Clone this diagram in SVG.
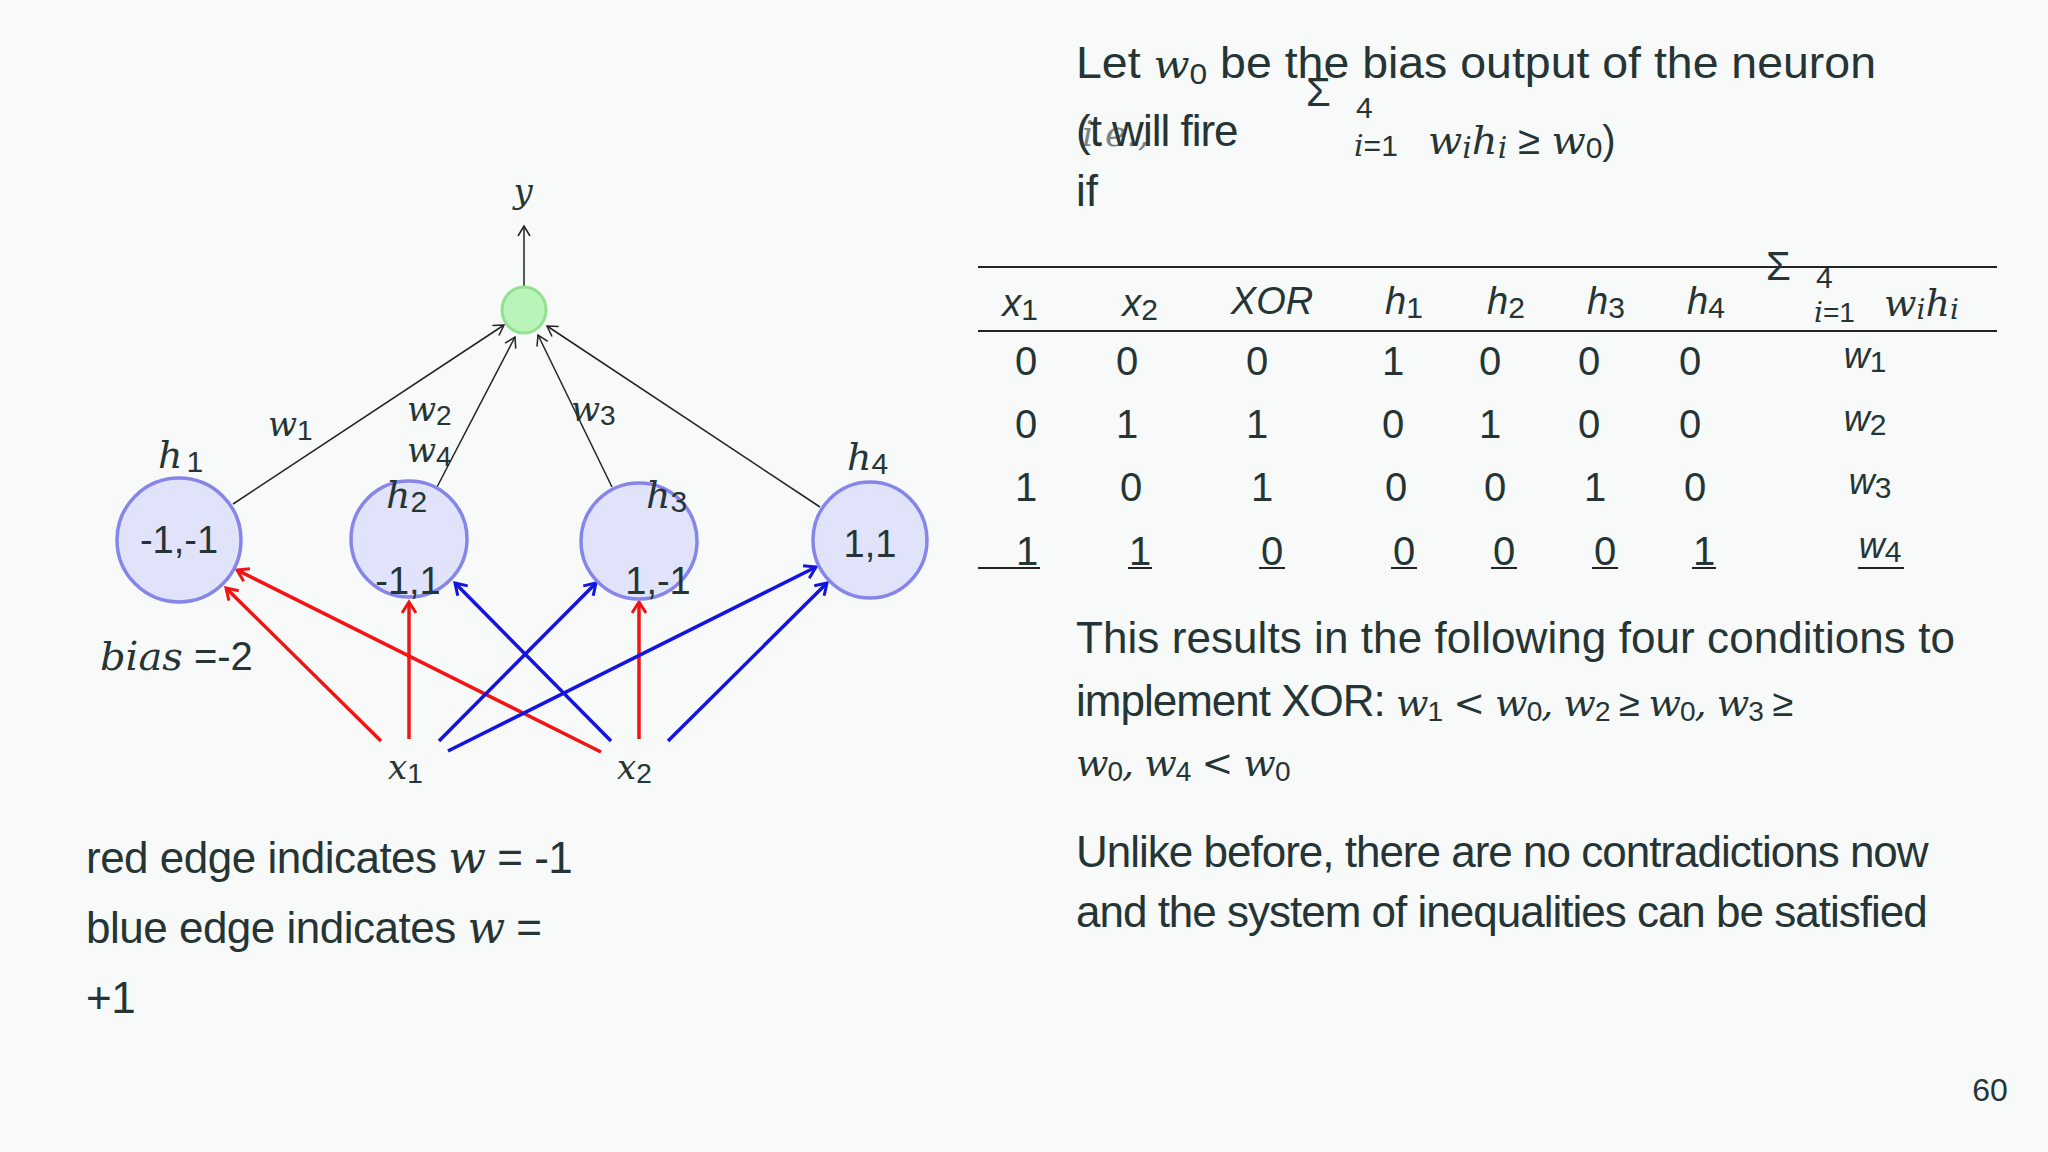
<svg xmlns="http://www.w3.org/2000/svg" width="2048" height="1152" viewBox="0 0 2048 1152">
<style>
text{fill:#253535;font-family:"Liberation Sans",Arial,sans-serif}
.m{font-family:"DejaVu Serif","Liberation Serif",serif;font-style:italic}
.s{font-family:"Liberation Sans",sans-serif;font-style:normal}
.b{font-size:44px}
.t{font-size:40px;text-anchor:middle}
.hn{fill:#e1e3fa;stroke:#8585ea;stroke-width:3.5}
.k{stroke:#222;stroke-width:1.5;fill:none;marker-end:url(#ak)}
.r{stroke:#f01414;stroke-width:3.5;fill:none;marker-end:url(#ar)}
.bl{stroke:#1414e0;stroke-width:3.5;fill:none;marker-end:url(#ab)}
</style>
<defs>
<marker id="ak" markerWidth="14" markerHeight="14" refX="12" refY="7" orient="auto" markerUnits="userSpaceOnUse"><path d="M2,1 L12,7 L2,13" fill="none" stroke="#222" stroke-width="1.5"/></marker>
<marker id="ar" markerWidth="16" markerHeight="16" refX="13" refY="8" orient="auto" markerUnits="userSpaceOnUse"><path d="M2,1 L13,8 L2,15" fill="none" stroke="#f01414" stroke-width="3"/></marker>
<marker id="ab" markerWidth="16" markerHeight="16" refX="13" refY="8" orient="auto" markerUnits="userSpaceOnUse"><path d="M2,1 L13,8 L2,15" fill="none" stroke="#1414e0" stroke-width="3"/></marker>
</defs>
<rect width="2048" height="1152" fill="#f8f9f9"/>
<g id="connectors">
<line x1="524" y1="287" x2="524" y2="226" class="k"/>
<line x1="233" y1="504" x2="504" y2="325" class="k"/>
<line x1="437" y1="487" x2="515" y2="337" class="k"/>
<line x1="612" y1="487" x2="538" y2="335" class="k"/>
<line x1="820" y1="507" x2="547" y2="326" class="k"/>
<line x1="381" y1="741" x2="226" y2="588" class="r"/>
<line x1="409" y1="739" x2="409" y2="602" class="r"/>
<line x1="601" y1="752" x2="237" y2="570" class="r"/>
<line x1="639" y1="739" x2="639" y2="602" class="r"/>
<line x1="439" y1="741" x2="596" y2="583" class="bl"/>
<line x1="448" y1="751" x2="816" y2="567" class="bl"/>
<line x1="611" y1="741" x2="455" y2="583" class="bl"/>
<line x1="668" y1="741" x2="827" y2="583" class="bl"/>
</g>
<g id="out"><ellipse cx="524" cy="310" rx="22" ry="23" fill="#b9f5b9" stroke="#92e092" stroke-width="3"/><text x="523" y="203" class="m" font-size="34" text-anchor="middle">y</text></g>
<g id="h1"><ellipse cx="179" cy="540" rx="62" ry="62" class="hn"/><text x="179" y="553" font-size="38" text-anchor="middle">-1,-1</text><text x="158" y="468" class="m" font-size="38">h<tspan font-size="30" class="s" dx="4" dy="4">1</tspan></text></g>
<g id="h2"><ellipse cx="409" cy="539" rx="58" ry="58" class="hn"/><text x="408" y="594" font-size="38" text-anchor="middle">-1,1</text><text x="386" y="508" class="m" font-size="38">h<tspan font-size="30" class="s" dy="4">2</tspan></text></g>
<g id="h3"><ellipse cx="639" cy="541" rx="58" ry="58" class="hn"/><text x="658" y="594" font-size="38" text-anchor="middle">1,-1</text><text x="646" y="508" class="m" font-size="38">h<tspan font-size="30" class="s" dy="4">3</tspan></text></g>
<g id="h4"><ellipse cx="870" cy="540" rx="57" ry="58" class="hn"/><text x="870" y="557" font-size="38" text-anchor="middle">1,1</text><text x="847" y="470" class="m" font-size="38">h<tspan font-size="30" class="s" dy="4">4</tspan></text></g>
<g id="wlabels" font-size="34">
<text x="268" y="436" class="m">w<tspan class="s" font-size="28" dy="4">1</tspan></text>
<text x="407" y="421" class="m">w<tspan class="s" font-size="28" dy="4">2</tspan></text>
<text x="407" y="462" class="m">w<tspan class="s" font-size="28" dy="4">4</tspan></text>
<text x="571" y="421" class="m">w<tspan class="s" font-size="28" dy="4">3</tspan></text>
</g>
<g id="inputs">
<text x="388" y="779" class="m" font-size="34">x<tspan class="s" font-size="28" dy="4">1</tspan></text>
<text x="617" y="779" class="m" font-size="34">x<tspan class="s" font-size="28" dy="4">2</tspan></text>
<text x="100" y="670" font-size="40"><tspan class="m">bias</tspan> =-2</text>
</g>
<g id="legend" font-size="44" letter-spacing="-0.5">
<text x="86" y="873">red edge indicates <tspan class="m">w</tspan> = -1</text>
<text x="86" y="943">blue edge indicates <tspan class="m">w</tspan> =</text>
<text x="86" y="1013">+1</text>
</g>
<g id="bullet1" class="b">
<text x="1076" y="78" textLength="800" lengthAdjust="spacingAndGlyphs">Let <tspan class="m" font-size="40">w</tspan><tspan font-size="30" dy="6">0</tspan><tspan dy="-6"> be the bias output of the neuron</tspan></text>
<text x="1076" y="146" letter-spacing="-1">(t will fire</text>
<text x="1082" y="146" class="m" font-size="36" fill-opacity="0.6">i.e.,</text>
<text x="1076" y="206">if</text>
<text x="1306" y="106" font-size="40">Σ</text>
<text x="1356" y="118" font-size="30">4</text>
<text x="1354" y="156" font-size="30"><tspan class="m">i</tspan>=1</text>
<text x="1428" y="154" class="m" font-size="40">w<tspan font-size="30" dy="4">i</tspan><tspan dy="-4">h</tspan><tspan font-size="30" dy="4">i</tspan><tspan class="s" dy="-4"> ≥ </tspan>w<tspan class="s" font-size="30" dy="4">0</tspan><tspan class="s" dy="-4">)</tspan></text>
</g>
<g id="table">
<line x1="978" y1="267" x2="1997" y2="267" stroke="#222" stroke-width="2"/>
<line x1="978" y1="331" x2="1997" y2="331" stroke="#222" stroke-width="2"/>
<g class="m" font-size="38" text-anchor="middle">
<text x="1020" y="316">x<tspan class="s" font-size="30" dy="4">1</tspan></text>
<text x="1140" y="316">x<tspan class="s" font-size="30" dy="4">2</tspan></text>
<text x="1272" y="314">XOR</text>
<text x="1404" y="314">h<tspan class="s" font-size="30" dy="4">1</tspan></text>
<text x="1506" y="314">h<tspan class="s" font-size="30" dy="4">2</tspan></text>
<text x="1606" y="314">h<tspan class="s" font-size="30" dy="4">3</tspan></text>
<text x="1706" y="314">h<tspan class="s" font-size="30" dy="4">4</tspan></text>
</g>
<text x="1766" y="280" font-size="40">Σ</text>
<text x="1816" y="288" font-size="30">4</text>
<text x="1814" y="322" font-size="28"><tspan class="m">i</tspan>=1</text>
<text x="1884" y="316" class="m" font-size="38">w<tspan font-size="28" dy="3">i</tspan><tspan dy="-3">h</tspan><tspan font-size="28" dy="3">i</tspan></text>
<g class="t">
<text x="1026" y="375">0</text><text x="1127" y="375">0</text><text x="1257" y="375">0</text><text x="1393" y="375">1</text><text x="1490" y="375">0</text><text x="1589" y="375">0</text><text x="1690" y="375">0</text>
<text x="1026" y="438">0</text><text x="1127" y="438">1</text><text x="1257" y="438">1</text><text x="1393" y="438">0</text><text x="1490" y="438">1</text><text x="1589" y="438">0</text><text x="1690" y="438">0</text>
<text x="1026" y="501">1</text><text x="1131" y="501">0</text><text x="1262" y="501">1</text><text x="1396" y="501">0</text><text x="1495" y="501">0</text><text x="1595" y="501">1</text><text x="1695" y="501">0</text>
<text x="1027" y="565">1</text><text x="1140" y="565">1</text><text x="1272" y="565">0</text><text x="1404" y="565">0</text><text x="1504" y="565">0</text><text x="1605" y="565">0</text><text x="1704" y="565">1</text>
</g>
<g class="m" font-size="36" text-anchor="middle">
<text x="1865" y="368">w<tspan class="s" font-size="30" dy="4">1</tspan></text>
<text x="1865" y="431">w<tspan class="s" font-size="30" dy="4">2</tspan></text>
<text x="1870" y="494">w<tspan class="s" font-size="30" dy="4">3</tspan></text>
<text x="1880" y="558">w<tspan class="s" font-size="30" dy="4">4</tspan></text>
</g>
<g stroke="#222" stroke-width="2">
<line x1="978" y1="568" x2="1040" y2="568"/><line x1="1128" y1="568" x2="1152" y2="568"/><line x1="1259" y1="568" x2="1285" y2="568"/><line x1="1391" y1="568" x2="1417" y2="568"/><line x1="1491" y1="568" x2="1517" y2="568"/><line x1="1592" y1="568" x2="1618" y2="568"/><line x1="1692" y1="568" x2="1716" y2="568"/><line x1="1858" y1="568" x2="1904" y2="568"/>
</g>
</g>
<g id="bullet2" class="b" letter-spacing="-1">
<text x="1076" y="653" textLength="878" lengthAdjust="spacing">This results in the following four conditions to</text>
<text x="1076" y="716">implement XOR: <tspan class="m" font-size="38">w<tspan class="s" font-size="28" dy="5">1</tspan><tspan dy="-5"> &lt; w</tspan><tspan class="s" font-size="28" dy="5">0</tspan><tspan dy="-5">, w</tspan><tspan class="s" font-size="28" dy="5">2</tspan><tspan class="s" dy="-5"> ≥ </tspan>w<tspan class="s" font-size="28" dy="5">0</tspan><tspan dy="-5">, w</tspan><tspan class="s" font-size="28" dy="5">3</tspan><tspan class="s" dy="-5"> ≥</tspan></tspan></text>
<text x="1076" y="776" class="m" font-size="38">w<tspan class="s" font-size="28" dy="5">0</tspan><tspan dy="-5">, w</tspan><tspan class="s" font-size="28" dy="5">4</tspan><tspan dy="-5"> &lt; w</tspan><tspan class="s" font-size="28" dy="5">0</tspan></text>
</g>
<g id="bullet3" class="b" letter-spacing="-1">
<text x="1076" y="867">Unlike before, there are no contradictions now</text>
<text x="1076" y="927">and the system of inequalities can be satisfied</text>
</g>
<text x="1990" y="1101" font-size="32" text-anchor="middle">60</text>
</svg>
